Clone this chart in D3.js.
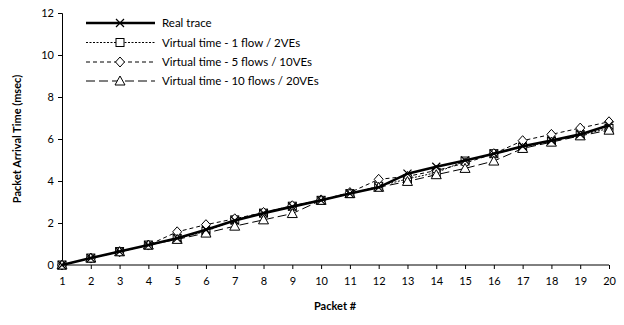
<!DOCTYPE html>
<html><head><meta charset="utf-8">
<script src="https://cdn.jsdelivr.net/npm/d3@7"></script>
<style>body{margin:0;background:#fff}svg{display:block}text{font-family:Lato,"Open Sans",sans-serif}</style>
</head><body>
<svg id="c" width="624" height="325"></svg>
<script>
const packets = d3.range(1, 21);
const realTrace = [0,0.33,0.64,0.95,1.27,1.68,2.12,2.47,2.78,3.08,3.40,3.70,4.35,4.68,4.98,5.30,5.65,5.93,6.22,6.65];
const vt1flow   = [0,0.33,0.64,0.95,1.27,1.60,2.15,2.47,2.80,3.08,3.40,3.75,4.10,4.40,4.95,5.30,5.60,5.90,6.20,6.50];
const vt5flows  = [0,0.33,0.63,0.95,1.58,1.92,2.20,2.50,2.82,3.10,3.45,4.08,4.22,4.50,4.85,5.30,5.92,6.22,6.52,6.82];
const vt10flows = [0,0.33,0.63,0.95,1.22,1.52,1.85,2.15,2.45,3.08,3.40,3.70,3.98,4.30,4.60,4.95,5.55,5.85,6.15,6.42];
const yTicks = [0,2,4,6,8,10,12];
const seriesNames = ["Real trace","Virtual time - 1 flow / 2VEs","Virtual time - 5 flows / 10VEs","Virtual time - 10 flows / 20VEs"];

const series = [
  {name: seriesNames[1], values: vt1flow, dash: "2,1.5", width: 1, marker: "square"},
  {name: seriesNames[2], values: vt5flows, dash: "4,3", width: 1, marker: "diamond"},
  {name: seriesNames[3], values: vt10flows, dash: "9,4", width: 1, marker: "triangle"},
  {name: seriesNames[0], values: realTrace, dash: null, width: 2.6, marker: "cross"}
];

const svg = d3.select("#c");
const x = d3.scaleLinear().domain([1,20]).range([62,609]);
const y = d3.scaleLinear().domain([0,12]).range([265,13]);

const yAxis = svg.append("g").attr("transform","translate(62,0)")
  .call(d3.axisLeft(y).tickValues(yTicks).tickSize(4).tickPadding(4));
const xAxis = svg.append("g").attr("transform","translate(0,265)")
  .call(d3.axisBottom(x).tickValues(packets).tickSize(4).tickPadding(6).tickFormat(d3.format("d")));
[yAxis,xAxis].forEach(a=>{
  a.selectAll("path,line").attr("stroke","#000").attr("stroke-width",1);
  a.selectAll("text").attr("font-size","11px").attr("fill","#000").style("font-family","Lato,sans-serif");
});
xAxis.select(".domain").attr("d","M62,0H609");
xAxis.selectAll("text").attr("dy","0.9em");

svg.append("text").attr("x",335).attr("y",310).attr("text-anchor","middle")
  .attr("font-size","11px").attr("font-weight","bold").text("Packet #");
svg.append("text").attr("transform","translate(21,139) rotate(-90)").attr("text-anchor","middle")
  .attr("font-size","11px").attr("font-weight","bold").text("Packet Arrival Time (msec)");

function drawMarker(g, type, cx, cy) {
  if (type === "square") {
    g.append("rect").attr("x",cx-4).attr("y",cy-4).attr("width",8).attr("height",8)
      .attr("fill","#fff").attr("stroke","#000").attr("stroke-width",1);
  } else if (type === "diamond") {
    g.append("path").attr("d",`M${cx},${cy-5}L${cx+4.5},${cy}L${cx},${cy+5}L${cx-4.5},${cy}Z`)
      .attr("fill","#fff").attr("stroke","#000").attr("stroke-width",1);
  } else if (type === "triangle") {
    g.append("path").attr("d",`M${cx},${cy-5}L${cx+5},${cy+4}L${cx-5},${cy+4}Z`)
      .attr("fill","#fff").attr("stroke","#000").attr("stroke-width",1);
  } else {
    g.append("path").attr("d",`M${cx-4},${cy-4}L${cx+4},${cy+4}M${cx-4},${cy+4}L${cx+4},${cy-4}`)
      .attr("stroke","#000").attr("stroke-width",1.2).attr("fill","none");
  }
}

const line = d3.line().x((d,i)=>x(packets[i])).y(d=>y(d));
series.forEach(s=>{
  const g = svg.append("g");
  g.append("path").attr("d", line(s.values)).attr("fill","none").attr("stroke","#000")
    .attr("stroke-width", s.width).attr("stroke-dasharray", s.dash);
  s.values.forEach((v,i)=>drawMarker(g, s.marker, x(packets[i]), y(v)));
});

const legendOrder = [series[3], series[0], series[1], series[2]];
const ly = [23, 42.5, 62, 81];
legendOrder.forEach((s,i)=>{
  const g = svg.append("g");
  g.append("line").attr("x1",86).attr("x2",155).attr("y1",ly[i]).attr("y2",ly[i])
    .attr("stroke","#000").attr("stroke-width",s.width).attr("stroke-dasharray",s.dash);
  drawMarker(g, s.marker, 120, ly[i]);
  g.append("text").attr("x",162).attr("y",ly[i]).attr("dy","0.35em").attr("font-size","11.5px").text(s.name);
});
</script>
</body></html>
